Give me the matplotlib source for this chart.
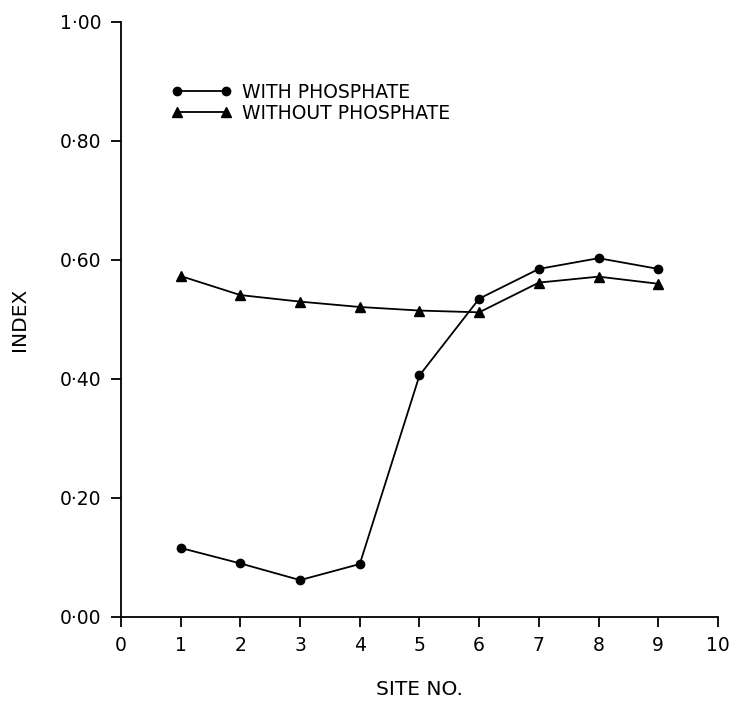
import matplotlib
matplotlib.use("Agg")
import matplotlib.pyplot as plt

sites = [1, 2, 3, 4, 5, 6, 7, 8, 9]
with_phosphate = [0.116, 0.090, 0.062, 0.089, 0.406, 0.535, 0.585, 0.603, 0.585]
without_phosphate = [0.573, 0.541, 0.530, 0.521, 0.515, 0.512, 0.562, 0.572, 0.560]
xticks = list(range(0, 11))
yticks = [0.0, 0.2, 0.4, 0.6, 0.8, 1.0]
ytick_labels = ["0·00", "0·20", "0·40", "0·60", "0·80", "1·00"]

plt.rcParams['font.family'] = ['DejaVu Sans']

fig = plt.figure(figsize=(7.36, 7.02), dpi=100)
ax = fig.add_axes([0.1644, 0.1211, 0.8111, 0.8476])

ax.plot(sites, with_phosphate, color='black', lw=1.3, marker='o', ms=6,
        label='WITH PHOSPHATE')
ax.plot(sites, without_phosphate, color='black', lw=1.3, marker='^', ms=7,
        label='WITHOUT PHOSPHATE')

ax.set_xlim(0, 10)
ax.set_ylim(0, 1.0)
ax.set_xticks(xticks)
ax.set_xticklabels([str(t) for t in xticks], fontsize=13.5)
ax.set_yticks(yticks)
ax.set_yticklabels(ytick_labels, fontsize=13.5)
ax.tick_params(axis='both', direction='out', length=7, width=1.3, pad=7)

for s in ['top', 'right']:
    ax.spines[s].set_visible(False)
for s in ['left', 'bottom']:
    ax.spines[s].set_linewidth(1.3)

ax.set_xlabel('SITE NO.', fontsize=14.5, labelpad=18)
ax.set_ylabel('INDEX', fontsize=14.5, labelpad=22)

leg = ax.legend(loc='upper left', bbox_to_anchor=(0.072, 0.91), frameon=False,
                numpoints=2, handlelength=3.2, handletextpad=0.55,
                labelspacing=0.1, fontsize=13.5, borderaxespad=0)

fig.savefig('out.png', dpi=100, facecolor='white')
